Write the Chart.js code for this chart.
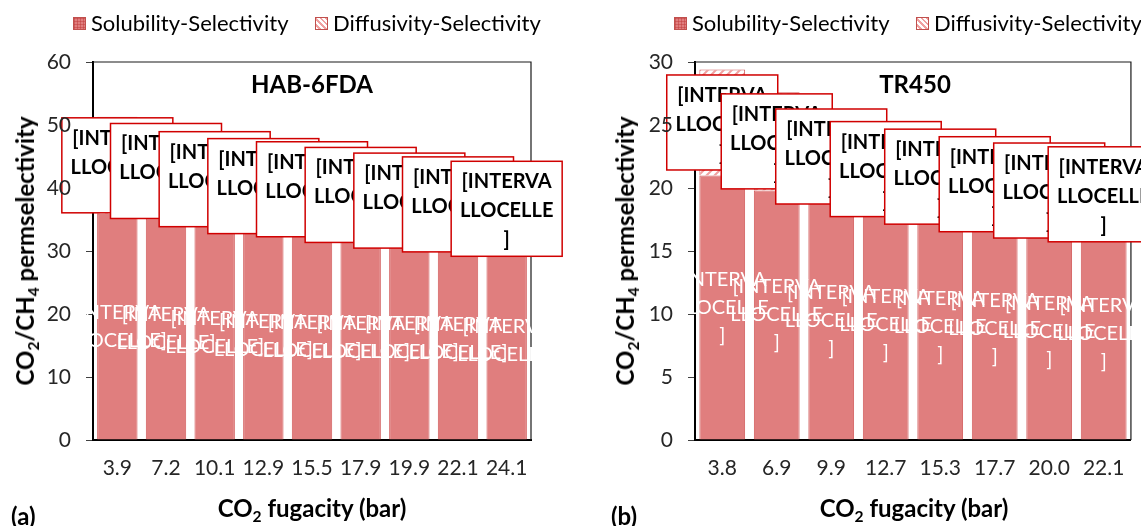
<!DOCTYPE html>
<html>
<head>
<meta charset="utf-8">
<script src="https://cdn.jsdelivr.net/npm/chart.js@4.4.1/dist/chart.umd.min.js"></script>
<style>
  html, body { margin: 0; padding: 0; background: #fff; }
  body { width: 1141px; height: 526px; position: relative; overflow: hidden; font-family: Lato, 'Open Sans', sans-serif; }
  canvas { position: absolute; top: 0; }
  #chartA { left: 0; }
  #chartB { left: 570px; }
  .txt { position: absolute; white-space: nowrap; color: #000; line-height: 1; }
  .legend { font-size: 22px; top: 12px; display: flex; align-items: center; }
  .sw { display: inline-block; width: 13px; height: 13px; margin-right: 5px; box-sizing: border-box; border: 1px solid #c0504d; }
  .sw.sol { background-color: #e07e7e; background-image: linear-gradient(rgba(192,60,60,0.5) 1px, transparent 1px), linear-gradient(90deg, rgba(192,60,60,0.5) 1px, transparent 1px); background-size: 3px 3px; }
  .sw.dif { background: repeating-linear-gradient(45deg, #fff 0 2px, #f0a0a0 2px 4px); }
  .ptitle { font-size: 24px; font-weight: bold; top: 72px; transform: translateX(-50%); }
  .ytitle { font-size: 24px; font-weight: bold; top: 251px; transform: translate(-50%, -50%) rotate(-90deg); }
  .xtitle { font-size: 24px; font-weight: bold; top: 496px; transform: translateX(-50%); }
  .tag { font-size: 24px; font-weight: bold; top: 504px; }
  sub { font-size: 0.65em; vertical-align: -0.3em; line-height: 0; }
</style>
</head>
<body>
<canvas id="chartA" width="570" height="526"></canvas>
<canvas id="chartB" width="571" height="526"></canvas>

<div class="txt legend" style="left:73px"><span class="sw sol"></span>Solubility-Selectivity</div>
<div class="txt legend" style="left:315px"><span class="sw dif"></span>Diffusivity-Selectivity</div>
<div class="txt legend" style="left:674px"><span class="sw sol"></span>Solubility-Selectivity</div>
<div class="txt legend" style="left:916px"><span class="sw dif"></span>Diffusivity-Selectivity</div>

<div class="txt ptitle" style="left:312px">HAB-6FDA</div>
<div class="txt ptitle" style="left:915px">TR450</div>

<div class="txt ytitle" style="left:25px">CO<sub>2</sub>/CH<sub>4</sub> permselectivity</div>
<div class="txt ytitle" style="left:625px">CO<sub>2</sub>/CH<sub>4</sub> permselectivity</div>

<div class="txt xtitle" style="left:312px">CO<sub>2</sub> fugacity (bar)</div>
<div class="txt xtitle" style="left:914px">CO<sub>2</sub> fugacity (bar)</div>

<div class="txt tag" style="left:11px">(a)</div>
<div class="txt tag" style="left:611px">(b)</div>

<script>
// (a) HAB-6FDA
const fugacityA = ['3.9', '7.2', '10.1', '12.9', '15.5', '17.9', '19.9', '22.1', '24.1'];
const solubilityA = [35.9, 35.2, 34.0, 33.2, 32.8, 32.6, 32.3, 32.0, 31.6];
const diffusivityA = [15.4, 15.0, 14.8, 14.2, 14.0, 12.6, 11.4, 10.8, 10.2];

// (b) TR450
const fugacityB = ['3.8', '6.9', '9.9', '12.7', '15.3', '17.7', '20.0', '22.1'];
const solubilityB = [21.0, 19.8, 19.0, 18.3, 17.9, 17.6, 17.1, 16.8];
const diffusivityB = [8.4, 7.8, 7.0, 6.4, 6.0, 5.4, 5.4, 5.4];

// broken Excel cell-range labels, as they show in the picture
const innerLinesA = ['[INTERVA', 'LLOCELLE]'];
const innerLinesB = ['[INTERVA', 'LLOCELLE', ']'];
const boxLines = ['[INTERVA', 'LLOCELLE', ']'];

function hatch() {
  const c = document.createElement('canvas');
  c.width = 8; c.height = 8;
  const g = c.getContext('2d');
  g.fillStyle = '#fff';
  g.fillRect(0, 0, 8, 8);
  g.strokeStyle = '#f0a0a0';
  g.lineWidth = 2;
  g.beginPath();
  g.moveTo(0, 8); g.lineTo(8, 0);
  g.moveTo(-2, 2); g.lineTo(2, -2);
  g.moveTo(6, 10); g.lineTo(10, 6);
  g.stroke();
  return g.createPattern(c, 'repeat');
}

const frame = {
  id: 'frame',
  beforeDatasetsDraw(chart) {
    const { ctx, chartArea: a } = chart;
    ctx.save();
    ctx.strokeStyle = '#1a1a1a';
    ctx.lineWidth = 1.2;
    ctx.beginPath();
    ctx.moveTo(a.left, a.top);
    ctx.lineTo(a.right, a.top);
    ctx.lineTo(a.right, a.bottom);
    ctx.stroke();
    ctx.restore();
  }
};

const cellLabels = {
  id: 'cellLabels',
  afterDatasetsDraw(chart, args, opts) {
    const ctx = chart.ctx;
    ctx.save();
    ctx.textAlign = 'center';
    ctx.textBaseline = 'middle';

    ctx.fillStyle = '#fff';
    ctx.font = '20px Lato';
    const inner = opts.inner;
    chart.getDatasetMeta(0).data.forEach(bar => {
      const cy = (bar.y + bar.base) / 2;
      inner.forEach((t, k) => {
        ctx.fillText(t, bar.x, cy + (k - (inner.length - 1) / 2) * 28);
      });
    });

    const w = 111, h = 95;
    const offs = [-27, 2, 31];
    chart.getDatasetMeta(1).data.forEach(bar => {
      const cy = (bar.y + bar.base) / 2;
      ctx.fillStyle = '#fff';
      ctx.fillRect(bar.x - w / 2, cy - h / 2, w, h);
      ctx.strokeStyle = '#d00000';
      ctx.lineWidth = 1.5;
      ctx.strokeRect(bar.x - w / 2, cy - h / 2, w, h);
      ctx.fillStyle = '#000';
      ctx.font = 'bold 20px Lato';
      boxLines.forEach((t, k) => ctx.fillText(t, bar.x, cy + offs[k]));
    });
    ctx.restore();
  }
};

function makeChart(id, labels, sol, dif, yMax, step, padLeft, padRight, barPct, inner) {
  return new Chart(document.getElementById(id), {
    type: 'bar',
    data: {
      labels: labels,
      datasets: [{
        label: 'Solubility-Selectivity',
        data: sol,
        backgroundColor: '#e07e7e',
        borderColor: '#d25c5c',
        borderWidth: 1
      }, {
        label: 'Diffusivity-Selectivity',
        data: dif,
        backgroundColor: hatch(),
        borderColor: '#d25c5c',
        borderWidth: 1
      }]
    },
    options: {
      responsive: false,
      animation: false,
      datasets: { bar: { barPercentage: barPct, categoryPercentage: 1 } },
      layout: { padding: { top: 62, bottom: 36, left: padLeft, right: padRight } },
      plugins: {
        legend: { display: false },
        title: { display: false },
        tooltip: { enabled: false },
        cellLabels: { inner: inner }
      },
      scales: {
        x: {
          stacked: true,
          grid: { display: false, drawTicks: false },
          border: { display: true, color: '#000', width: 2 },
          ticks: { color: '#262626', font: { family: 'Lato', size: 21 }, padding: 16, maxRotation: 0, autoSkip: false },
          afterFit: s => { s.height = 50; }
        },
        y: {
          stacked: true,
          min: 0,
          max: yMax,
          grid: { display: true, drawOnChartArea: false, drawTicks: true, tickLength: 7, color: '#404040' },
          border: { display: true, color: '#000', width: 2 },
          ticks: { stepSize: step, color: '#262626', font: { family: 'Lato', size: 21 }, padding: 15, z: 1 },
          afterFit: s => { s.width = 60; }
        }
      }
    },
    plugins: [frame, cellLabels]
  });
}

makeChart('chartA', fugacityA, solubilityA, diffusivityA, 60, 10, 33, 39, 0.83, innerLinesA);
makeChart('chartB', fugacityB, solubilityB, diffusivityB, 30, 5, 65, 9, 0.84, innerLinesB);
</script>
</body>
</html>
